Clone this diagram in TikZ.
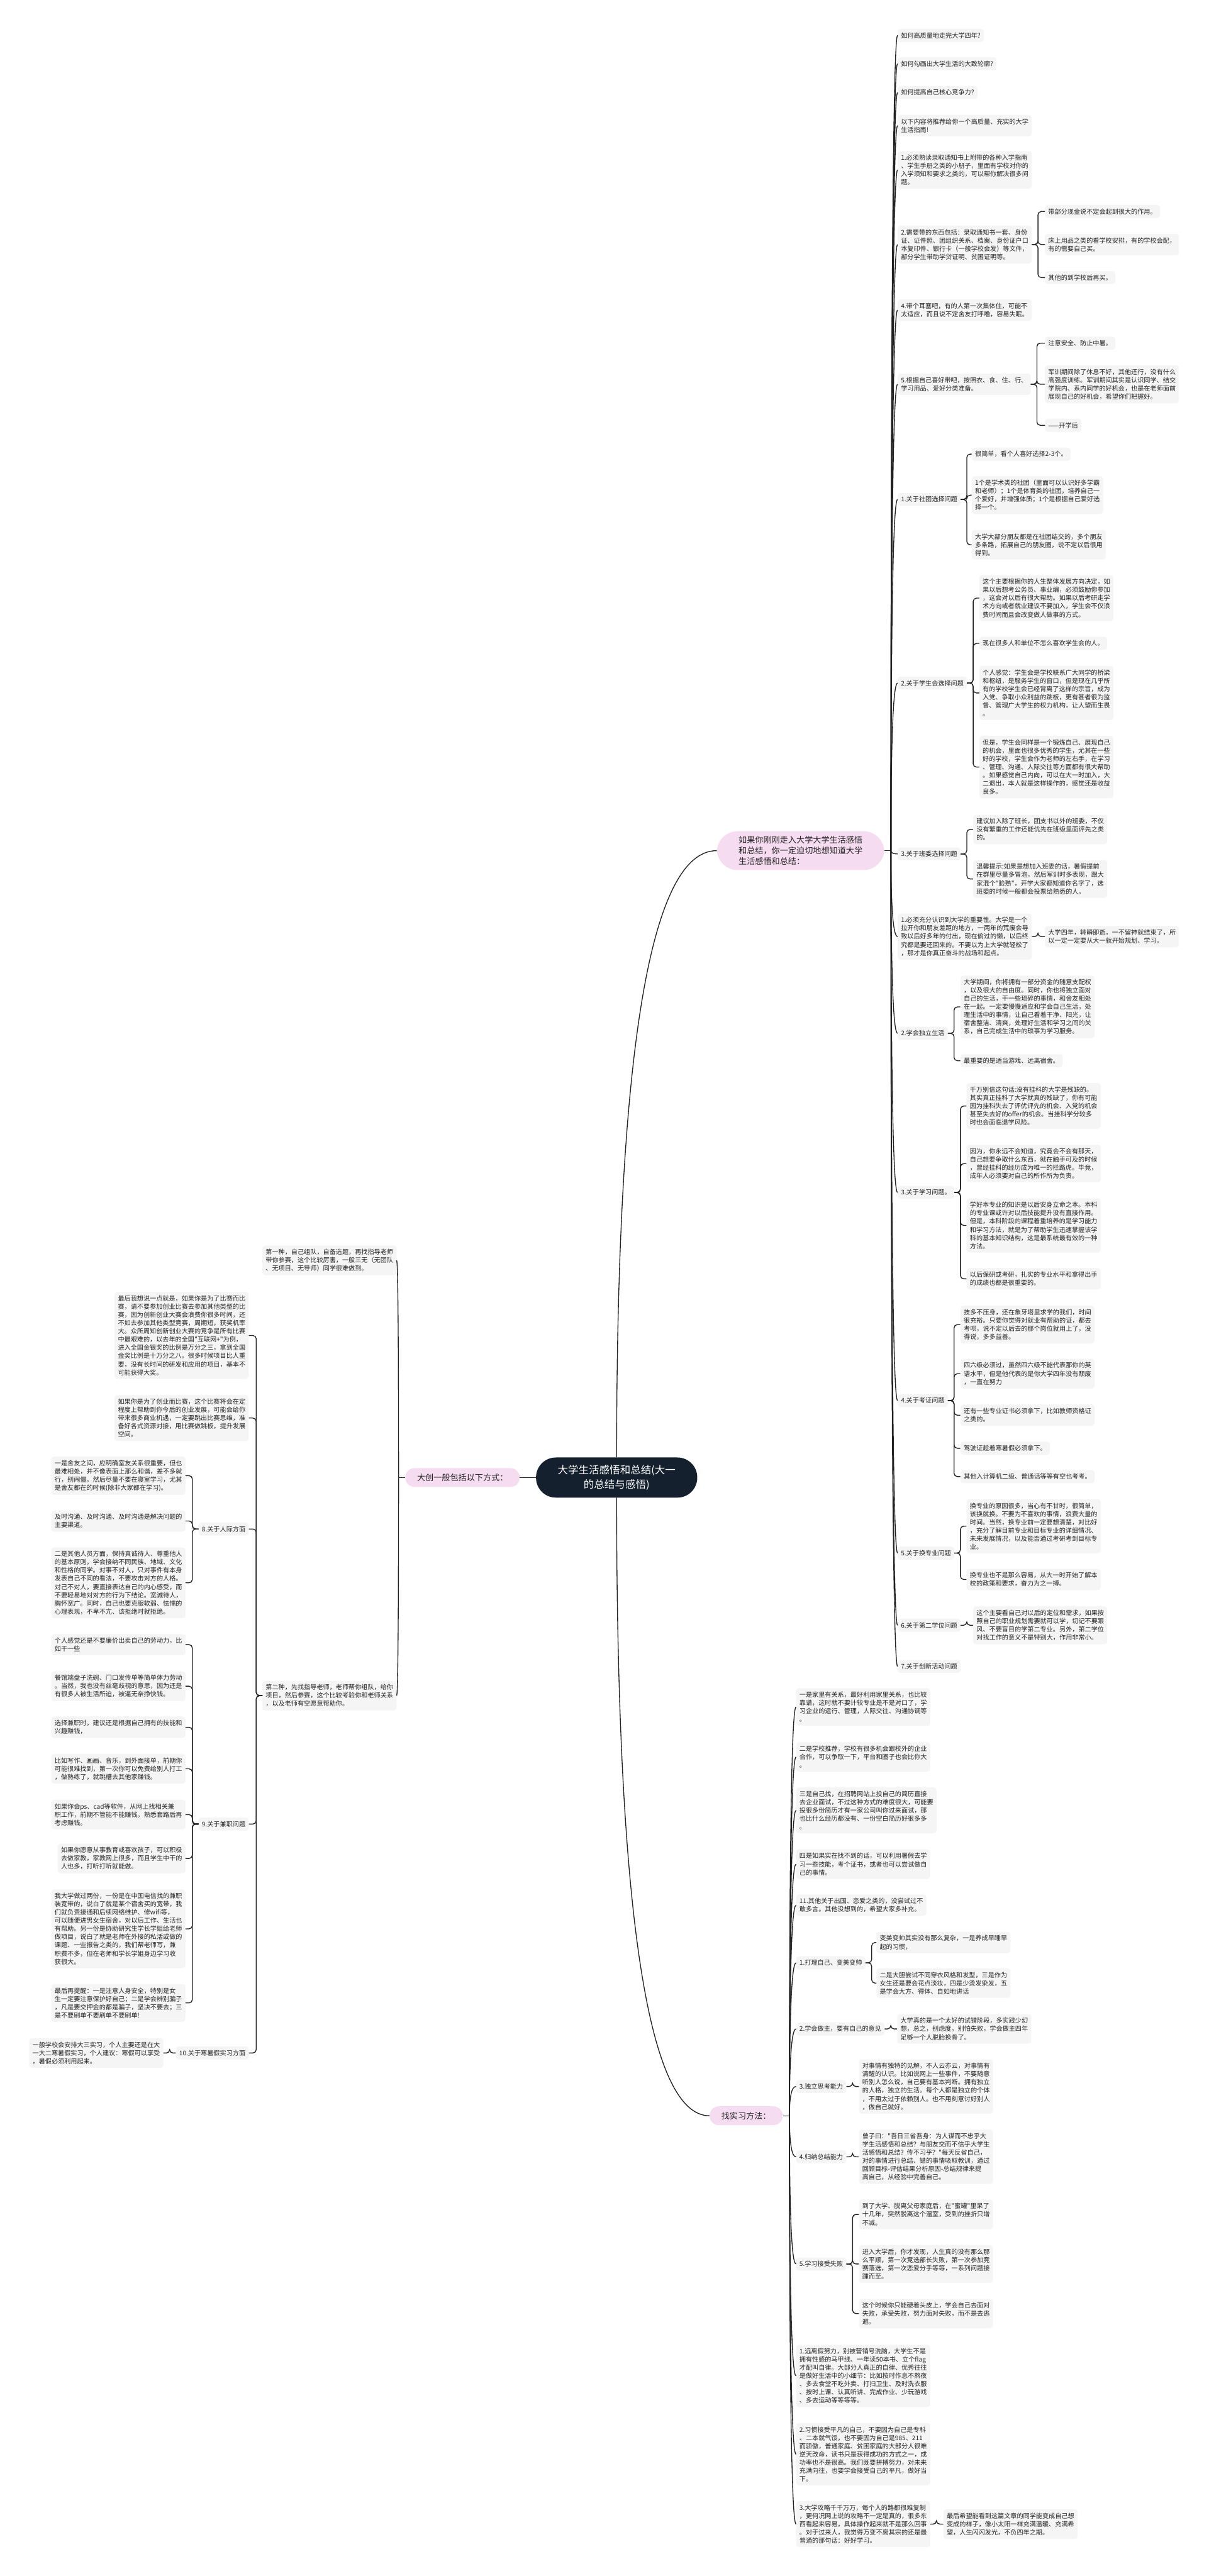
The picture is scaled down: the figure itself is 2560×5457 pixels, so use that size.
\documentclass[tikz,border=0pt]{standalone}
\usepackage{fontspec}
\usepackage{xcolor}
\usetikzlibrary{calc}
\newfontfamily\cjk{Noto Sans CJK SC}
\definecolor{rootbg}{HTML}{15202E}
\definecolor{topicbg}{RGB}{246,220,241}
\definecolor{leafbg}{HTML}{F5F5F5}
\definecolor{inkc}{HTML}{222222}

% curved link: quadratic-looking bend from a spine point into a node side
\newcommand\bendlink[2]{\draw[link] (#1) .. controls ($(#1)!0.667!(#1 |- #2)$) and ($(#2)!0.667!(#1 |- #2)$) .. (#2);}
% bracket links, to the right and to the left
\newcommand\elbow[2]{\draw[link, rounded corners=7] (#1.east) -- ++(13,0) |- (#2.west);}
\newcommand\elbowl[2]{\draw[link, rounded corners=7] (#1.west) -- ++(-13,0) |- (#2.east);}

\begin{document}
\begin{tikzpicture}[x=1pt, y=-1pt,
    link/.style={draw=inkc, line width=1.8pt},
    leaf/.style={fill=leafbg, rounded corners=6pt, align=left, text=inkc,
        inner xsep=7pt, inner ysep=7.5pt, font=\cjk\fontsize{13.5}{17.4}\selectfont},
    topic/.style={fill=topicbg, rounded corners=20pt, align=left, text=inkc,
        inner xsep=25pt, inner ysep=10pt, minimum height=40pt, font=\cjk\fontsize{17.5}{23}\selectfont},
    root/.style={fill=rootbg, rounded corners=42pt, align=center, text=white,
        inner xsep=46pt, inner ysep=12pt, minimum height=85pt, font=\cjk\fontsize{22}{31}\selectfont}]
\useasboundingbox[fill=white] (0,0) rectangle (2560,5457);

% centre
\node[root] (root) at (1306,3130) {大学生活感悟和总结(大一\\的总结与感悟)};

% first branch
\node[topic, anchor=east, rounded corners=44pt, inner xsep=46pt] (r0) at (1873,1802)
    {如果你刚刚走入大学大学生活感悟\\和总结，你一定迫切地想知道大学\\生活感悟和总结：};
\node[leaf, anchor=west] (ra) at (1901,75) {如何高质量地走完大学四年?};
\node[leaf, anchor=west] (rb) at (1901,135) {如何勾画出大学生活的大致轮廓?};
\node[leaf, anchor=west] (rc) at (1901,196) {如何提高自己核心竞争力?};
\node[leaf, anchor=west] (rd) at (1901,266) {以下内容将推荐给你一个高质量、充实的大学\\生活指南!};
\node[leaf, anchor=west] (re) at (1901,360) {1.必须熟读录取通知书上附带的各种入学指南\\、学生手册之类的小册子，里面有学校对你的\\入学须知和要求之类的，可以帮你解决很多问\\题。};
\node[leaf, anchor=west] (rf) at (1901,518) {2.需要带的东西包括：录取通知书一套、身份\\证、证件照、团组织关系、档案、身份证户口\\本复印件、银行卡（一般学校会发）等文件，\\部分学生带助学贷证明、贫困证明等。};
\node[leaf, anchor=west] (rf1) at (2213,448) {带部分现金说不定会起到很大的作用。};
\node[leaf, anchor=west] (rf2) at (2213,518) {床上用品之类的看学校安排，有的学校会配，\\有的需要自己买。};
\node[leaf, anchor=west] (rf3) at (2213,588) {其他的到学校后再买。};
\node[leaf, anchor=west] (rg) at (1901,657) {4.带个耳塞吧，有的人第一次集体住，可能不\\太适应，而且说不定舍友打呼噜，容易失眠。};
\node[leaf, anchor=west] (rh) at (1901,814) {5.根据自己喜好带吧，按照衣、食、住、行、\\学习用品、爱好分类准备。};
\node[leaf, anchor=west] (rh1) at (2213,727) {注意安全、防止中暑。};
\node[leaf, anchor=west] (rh2) at (2213,814) {军训期间除了休息不好，其他还行，没有什么\\高强度训练。军训期间其实是认识同学、结交\\学院内、系内同学的好机会，也是在老师面前\\展现自己的好机会，希望你们把握好。};
\node[leaf, anchor=west] (rh3) at (2213,901) {——开学后};
\node[leaf, anchor=west] (ri) at (1901,1058) {1.关于社团选择问题};
\node[leaf, anchor=west] (ri1) at (2058,962) {很简单，看个人喜好选择2-3个。};
\node[leaf, anchor=west] (ri2) at (2058,1049) {1个是学术类的社团（里面可以认识好多学霸\\和老师）；1个是体育类的社团，培养自己一\\个爱好，并增强体质；1个是根据自己爱好选\\择一个。};
\node[leaf, anchor=west] (ri3) at (2058,1154) {大学大部分朋友都是在社团结交的，多个朋友\\多条路，拓展自己的朋友圈，说不定以后很用\\得到。};
\node[leaf, anchor=west] (rj) at (1901,1447) {2.关于学生会选择问题};
\node[leaf, anchor=west] (rj1) at (2074,1267) {这个主要根据你的人生整体发展方向决定，如\\果以后想考公务员、事业编，必须鼓励你参加\\，这会对以后有很大帮助。如果以后考研走学\\术方向或者就业建议不要加入，学生会不仅浪\\费时间而且会改变做人做事的方式。};
\node[leaf, anchor=west] (rj2) at (2074,1363) {现在很多人和单位不怎么喜欢学生会的人。};
\node[leaf, anchor=west] (rj3) at (2074,1468) {个人感觉：学生会是学校联系广大同学的桥梁\\和枢纽，是服务学生的窗口，但是现在几乎所\\有的学校学生会已经背离了这样的宗旨，成为\\入党、争取小众利益的跳板，更有甚者很为监\\督、管理广大学生的权力机构，让人望而生畏\\。};
\node[leaf, anchor=west] (rj4) at (2074,1625) {但是，学生会同样是一个锻炼自己、展现自己\\的机会，里面也很多优秀的学生，尤其在一些\\好的学校，学生会作为老师的左右手，在学习\\、管理、沟通、人际交往等方面都有很大帮助\\。如果感觉自己内向，可以在大一时加入，大\\二退出，本人就是这样操作的，感觉还是收益\\良多。};
\node[leaf, anchor=west] (rk) at (1901,1809) {3.关于班委选择问题};
\node[leaf, anchor=west] (rk1) at (2061,1757) {建议加入除了班长，团支书以外的班委，不仅\\没有繁重的工作还能优先在班级里面评先之类\\的。};
\node[leaf, anchor=west] (rk2) at (2061,1862) {温馨提示:如果是想加入班委的话，暑假提前\\在群里尽量多冒泡，然后军训时多表现，跟大\\家混个"脸熟"，开学大家都知道你名字了，选\\班委的时候一般都会投票给熟悉的人。};
\node[leaf, anchor=west] (rl) at (1901,1984) {1.必须充分认识到大学的重要性。大学是一个\\拉开你和朋友差距的地方，一两年的荒废会导\\致以后好多年的付出，现在偷过的懒，以后终\\究都是要还回来的。不要以为上大学就轻松了\\，那才是你真正奋斗的战场和起点。};
\node[leaf, anchor=west] (rl1) at (2213,1984) {大学四年，转瞬即逝，一不留神就结束了，所\\以一定一定要从大一就开始规划、学习。};
\node[leaf, anchor=west] (rm) at (1901,2189) {2.学会独立生活};
\node[leaf, anchor=west] (rm1) at (2034,2133) {大学期间，你将拥有一部分资金的随意支配权\\，以及很大的自由度。同时，你也将独立面对\\自己的生活，干一些琐碎的事情，和舍友相处\\在一起。一定要慢慢适应和学会自己生活，处\\理生活中的事情，让自己看着干净、阳光，让\\宿舍整洁、清爽，处理好生活和学习之间的关\\系，自己完成生活中的琐事为学习服务。};
\node[leaf, anchor=west] (rm2) at (2034,2247) {最重要的是适当游戏、远离宿舍。};
\node[leaf, anchor=west] (rn) at (1901,2526) {3.关于学习问题。};
\node[leaf, anchor=west] (rn1) at (2047,2343) {千万别信这句话:没有挂科的大学是残缺的。\\其实真正挂科了大学就真的残缺了，你有可能\\因为挂科失去了评优评先的机会、入党的机会\\甚至失去好的offer的机会。当挂科学分较多\\时也会面临退学风险。};
\node[leaf, anchor=west] (rn2) at (2047,2465) {因为，你永远不会知道，究竟会不会有那天，\\自己想要争取什么东西，就在触手可及的时候\\，曾经挂科的经历成为唯一的拦路虎。毕竟，\\成年人必须要对自己的所作所为负责。};
\node[leaf, anchor=west] (rn3) at (2047,2596) {学好本专业的知识是以后安身立命之本。本科\\的专业课或许对以后技能提升没有直接作用。\\但是，本科阶段的课程着重培养的是学习能力\\和学习方法，就是为了帮助学生迅速掌握该学\\科的基本知识结构，这是最系统最有效的一种\\方法。};
\node[leaf, anchor=west] (rn4) at (2047,2709) {以后保研或考研，扎实的专业水平和拿得出手\\的成绩也都是很重要的。};
\node[leaf, anchor=west] (ro) at (1901,2967) {4.关于考证问题};
\node[leaf, anchor=west] (ro1) at (2034,2806) {技多不压身，还在象牙塔里求学的我们，时间\\很充裕。只要你觉得对就业有帮助的证，都去\\考呗，说不定以后去的那个岗位就用上了。没\\得说，多多益善。};
\node[leaf, anchor=west] (ro2) at (2034,2910) {四六级必须过，虽然四六级不能代表那你的英\\语水平，但是他代表的是你大学四年没有颓废\\，一直在努力};
\node[leaf, anchor=west] (ro3) at (2034,2998) {还有一些专业证书必须拿下，比如教师资格证\\之类的。};
\node[leaf, anchor=west] (ro4) at (2034,3068) {驾驶证趁着寒暑假必须拿下。};
\node[leaf, anchor=west] (ro5) at (2034,3128) {其他入计算机二级、普通话等等有空也考考。};
\node[leaf, anchor=west] (rp) at (1901,3290) {5.关于换专业问题};
\node[leaf, anchor=west] (rp1) at (2047,3233) {换专业的原因很多，当心有不甘时，很简单，\\该换就换。不要为不喜欢的事情，浪费大量的\\时间。当然，换专业前一定要想清楚，对比好\\，充分了解目前专业和目标专业的详细情况、\\未来发展情况，以及能否通过考研考到目标专\\业。};
\node[leaf, anchor=west] (rp2) at (2047,3346) {换专业也不是那么容易，从大一时开始了解本\\校的政策和要求，奋力为之一搏。};
\node[leaf, anchor=west] (rq) at (1901,3443) {6.关于第二学位问题};
\node[leaf, anchor=west] (rq1) at (2061,3443) {这个主要看自己对以后的定位和需求，如果按\\照自己的职业规划需要就可以学，切记不要跟\\风、不要盲目的学第二专业。另外，第二学位\\对找工作的意义不是特别大，作用非常小。};
\node[leaf, anchor=west] (rr) at (1901,3530) {7.关于创新活动问题};

% second branch, to the left
\node[topic, anchor=east] (dc) at (1101,3130) {大创一般包括以下方式：};
\node[leaf, anchor=east] (l1) at (840,2670) {第一种，自己组队，自备选题，再找指导老师\\带你参赛，这个比较厉害，一般三无（无团队\\、无项目、无导师）同学很难做到。};
\node[leaf, anchor=east] (l2) at (840,3592) {第二种，先找指导老师，老师帮你组队，给你\\项目，然后参赛，这个比较考验你和老师关系\\，以及老师有空愿意帮助你。};
\node[leaf, anchor=east] (la) at (527,2829) {最后我想说一点就是，如果你是为了比赛而比\\赛，请不要参加创业比赛去参加其他类型的比\\赛，因为创新创业大赛会浪费你很多时间，还\\不如去参加其他类型竞赛，周期短，获奖机率\\大。众所周知创新创业大赛的竞争是所有比赛\\中最艰难的，以去年的全国"互联网+"为例，\\进入全国金银奖的比例是万分之三，拿到全国\\金奖比例是十万分之八。很多时候项目比人重\\要，没有长时间的研发和应用的项目，基本不\\可能获得大奖。};
\node[leaf, anchor=east] (lb) at (527,3004) {如果你是为了创业而比赛，这个比赛将会在定\\程度上帮助到你今后的创业发展，可能会给你\\带来很多商业机遇，一定要跳出比赛思维，准\\备好各式资源对接，用比赛做跳板，提升发展\\空间。};
\node[leaf, anchor=east] (lc) at (527,3239) {8.关于人际方面};
\node[leaf, anchor=east] (lc1) at (393,3126) {一是舍友之间，应明确室友关系很重要，但也\\最难相处，并不像表面上那么和谐，差不多就\\行，别闹僵。然后尽量不要在寝室学习，尤其\\是舍友都在的时候(除非大家都在学习)。};
\node[leaf, anchor=east] (lc2) at (393,3222) {及时沟通、及时沟通、及时沟通是解决问题的\\主要渠道。};
\node[leaf, anchor=east] (lc3) at (393,3353) {二是其他人员方面，保持真诚待人、尊重他人\\的基本原则，学会接纳不同民族、地域、文化\\和性格的同学。对事不对人，只对事件有本身\\发表自己不同的看法，不要攻击对方的人格。\\对己不对人，要直接表达自己的内心感受，而\\不要轻易地对对方的行为下结论。宽诚待人，\\胸怀宽广。同时，自己也要克服软弱、怯懦的\\心理表现，不卑不亢、该拒绝时就拒绝。};
\node[leaf, anchor=east] (ld) at (527,3864) {9.关于兼职问题};
\node[leaf, anchor=east] (ld1) at (393,3484) {个人感觉还是不要廉价出卖自己的劳动力，比\\如干一些};
\node[leaf, anchor=east] (ld2) at (393,3572) {餐馆端盘子洗碗、门口发传单等简单体力劳动\\。当然，我也没有丝毫歧视的意思，因为还是\\有很多人被生活所迫，被逼无奈挣快钱。};
\node[leaf, anchor=east] (ld3) at (393,3659) {选择兼职时，建议还是根据自己拥有的技能和\\兴趣赚钱，};
\node[leaf, anchor=east] (ld4) at (393,3747) {比如写作、画画、音乐，到外面接单，前期你\\可能很难找到，第一次你可以免费给别人打工\\，做熟练了，就跳槽去其他家赚钱。};
\node[leaf, anchor=east] (ld5) at (393,3844) {如果你会ps、cad等软件，从网上找相关兼\\职工作，前期不管能不能赚钱，熟悉套路后再\\考虑赚钱。};
\node[leaf, anchor=east] (ld6) at (393,3937) {如果你愿意从事教育或喜欢孩子，可以积极\\去做家教，家教网上很多，而且学生中干的\\人也多，打听打听就能做。};
\node[leaf, anchor=east] (ld7) at (393,4086) {我大学做过两份，一份是在中国电信找的兼职\\装宽带的，说白了就是某个宿舍买的宽带，我\\们就负责接通和后续网络维护、修wifi等，\\可以随便进男女生宿舍，对以后工作、生活也\\有帮助。另一份是协助研究生学长学姐给老师\\做项目，说白了就是老师在外接的私活或做的\\课题、一些报告之类的，我们帮老师写，兼\\职费不多，但在老师和学长学姐身边学习收\\获很大。};
\node[leaf, anchor=east] (ld8) at (393,4243) {最后再提醒：一是注意人身安全，特别是女\\生一定要注意保护好自己；二是学会辨别骗子\\，凡是要交押金的都是骗子，坚决不要去；三\\是不要刷单不要刷单不要刷单!};
\node[leaf, anchor=east] (le) at (527,4349) {10.关于寒暑假实习方面};
\node[leaf, anchor=east] (le1) at (346,4349) {一般学校会安排大三实习，个人主要还是在大\\一大二寒暑假实习，个人建议：寒假可以享受\\，暑假必须利用起来。};

% third branch, downwards
\node[topic, anchor=east] (zx) at (1658,4482) {找实习方法：};
\node[leaf, anchor=west] (b1) at (1686,3616) {一是家里有关系，最好利用家里关系，也比较\\靠谱，这时就不要计较专业是不是对口了，学\\习企业的运行、管理，人际交往、沟通协调等\\。};
\node[leaf, anchor=west] (b2) at (1686,3722) {二是学校推荐，学校有很多机会跟校外的企业\\合作，可以争取一下，平台和圈子也会比你大\\。};
\node[leaf, anchor=west] (b3) at (1686,3835) {三是自己找，在招聘网站上投自己的简历直接\\去企业面试，不过这种方式的难度很大，可能要\\投很多份简历才有一家公司叫你过来面试，那\\也比什么经历都没有、一份空白简历好很多多\\。};
\node[leaf, anchor=west] (b4) at (1686,3949) {四是如果实在找不到的话，可以利用暑假去学\\习一些技能，考个证书，或者也可以尝试做自\\己的事情。};
\node[leaf, anchor=west] (b5) at (1686,4036) {11.其他关于出国、恋爱之类的，没尝试过不\\敢多言。其他没想到的，希望大家多补充。};
\node[leaf, anchor=west] (b6) at (1686,4158) {1.打理自己、变美变帅};
\node[leaf, anchor=west] (b6a) at (1856,4115) {变美变帅其实没有那么复杂，一是养成早睡早\\起的习惯，};
\node[leaf, anchor=west] (b6b) at (1856,4201) {二是大胆尝试不同穿衣风格和发型，三是作为\\女生还是要会花点淡妆，四是少烫发染发，五\\是学会大方、得体、自如地讲话};
\node[leaf, anchor=west] (b7) at (1686,4298) {2.学会做主，要有自己的意见};
\node[leaf, anchor=west] (b7a) at (1900,4298) {大学真的是一个太好的试错阶段，多实践少幻\\想，总之，别虑度，别怕失败，学会做主四年\\足够一个人脱胎换骨了。};
\node[leaf, anchor=west] (b8) at (1686,4420) {3.独立思考能力};
\node[leaf, anchor=west] (b8a) at (1819,4420) {对事情有独特的见解，不人云亦云，对事情有\\清醒的认识。比如说网上一些事件，不要随意\\听别人怎么说，自己要有基本判断。拥有独立\\的人格，独立的生活。每个人都是独立的个体\\，不用太过于依赖别人。也不用刻意讨好别人\\，做自己就好。};
\node[leaf, anchor=west] (b9) at (1686,4569) {4.归纳总结能力};
\node[leaf, anchor=west] (b9a) at (1819,4569) {曾子曰："吾日三省吾身：为人谋而不忠乎大\\学生活感悟和总结？与朋友交而不信乎大学生\\活感悟和总结？传不习乎？"每天反省自己，\\对的事情进行总结、错的事情吸取教训，通过\\回顾目标-评估结果分析原因-总结规律来提\\高自己，从经验中完善自己。};
\node[leaf, anchor=west] (b10) at (1686,4796) {5.学习接受失败};
\node[leaf, anchor=west] (b10a) at (1819,4691) {到了大学、脱离父母家庭后，在"蜜罐"里呆了\\十几年，突然脱离这个温室，受到的挫折只增\\不减。};
\node[leaf, anchor=west] (b10b) at (1819,4796) {进入大学后，你才发现，人生真的没有那么那\\么平顺，第一次竞选部长失败，第一次参加竞\\赛落选，第一次恋爱分手等等，一系列问题接\\踵而至。};
\node[leaf, anchor=west] (b10c) at (1819,4901) {这个时候你只能硬着头皮上，学会自己去面对\\失败，承受失败，努力面对失败，而不是去逃\\避。};
\node[leaf, anchor=west] (b11) at (1686,5033) {1.远离假努力，别被营销号洗脑，大学生不是\\拥有性感的马甲线、一年读50本书、立个flag\\才配叫自律。大部分人真正的自律、优秀往往\\是做好生活中的小细节：比如按时作息不熬夜\\、多去食堂不吃外卖、打扫卫生、及时洗衣服\\、按时上课、认真听讲、完成作业、少玩游戏\\、多去运动等等等等。};
\node[leaf, anchor=west] (b12) at (1686,5199) {2.习惯接受平凡的自己，不要因为自己是专科\\、二本就气馁，也不要因为自己是985、211\\而骄傲，普通家庭、贫困家庭的大部分人很难\\逆天改命，读书只是获得成功的方式之一，成\\功率也不是很高。我们既要拼搏努力，对未来\\充满向往，也要学会接受自己的平凡，做好当\\下。};
\node[leaf, anchor=west] (b13) at (1686,5347) {3.大学攻略千千万万，每个人的路都很难复制\\，更何况网上说的攻略不一定是真的，很多东\\西看起来容易，具体操作起来就不是那么回事\\。对于过来人，我觉得万变不离其宗的还是最\\普通的那句话：好好学习。};
\node[leaf, anchor=west] (b13a) at (1998,5347) {最后希望能看到这篇文章的同学能变成自己想\\变成的样子，像小太阳一样充满温暖、充满希\\望，人生闪闪发光，不负四年之期。};

% links from the centre
\bendlink{root.north}{r0.west}
\bendlink{root.south}{zx.west}
\draw[link] (root.west) -- (dc.east);

% spine of the first branch
\coordinate (r0s) at ($(r0.east)+(14,0)$);
\draw[link] (r0.east) -- (r0s);
\foreach \c in {ra,rb,rc,rd,re,rf,rg,rh,ri,rj,rk,rl,rm,rn,ro,rp,rq,rr}
    \bendlink{r0s}{\c.west};
\foreach \c in {rf1,rf2,rf3} \elbow{rf}{\c};
\foreach \c in {rh1,rh2,rh3} \elbow{rh}{\c};
\foreach \c in {ri1,ri2,ri3} \elbow{ri}{\c};
\foreach \c in {rj1,rj2,rj3,rj4} \elbow{rj}{\c};
\foreach \c in {rk1,rk2} \elbow{rk}{\c};
\elbow{rl}{rl1}
\foreach \c in {rm1,rm2} \elbow{rm}{\c};
\foreach \c in {rn1,rn2,rn3,rn4} \elbow{rn}{\c};
\foreach \c in {ro1,ro2,ro3,ro4,ro5} \elbow{ro}{\c};
\foreach \c in {rp1,rp2} \elbow{rp}{\c};
\elbow{rq}{rq1}

% spine of the second branch
\coordinate (dcs) at ($(dc.west)+(-14,0)$);
\draw[link] (dc.west) -- (dcs);
\bendlink{dcs}{l1.east}
\bendlink{dcs}{l2.east}
\foreach \c in {la,lb,lc,ld,le} \elbowl{l2}{\c};
\foreach \c in {lc1,lc2,lc3} \elbowl{lc}{\c};
\foreach \c in {ld1,ld2,ld3,ld4,ld5,ld6,ld7,ld8} \elbowl{ld}{\c};
\elbowl{le}{le1}

% spine of the third branch
\coordinate (zxs) at ($(zx.east)+(14,0)$);
\draw[link] (zx.east) -- (zxs);
\foreach \c in {b1,b2,b3,b4,b5,b6,b7,b8,b9,b10,b11,b12,b13}
    \bendlink{zxs}{\c.west};
\foreach \c in {b6a,b6b} \elbow{b6}{\c};
\elbow{b7}{b7a}
\elbow{b8}{b8a}
\elbow{b9}{b9a}
\foreach \c in {b10a,b10b,b10c} \elbow{b10}{\c};
\elbow{b13}{b13a}
\end{tikzpicture}
\end{document}
